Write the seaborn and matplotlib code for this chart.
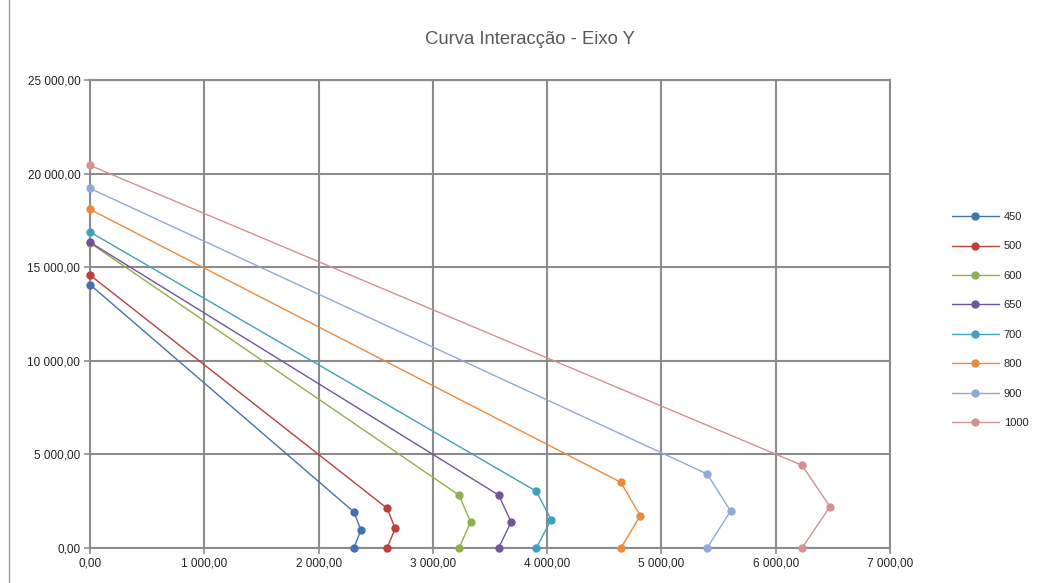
import pandas as pd
import numpy as np
import matplotlib
matplotlib.use("Agg")
import matplotlib.pyplot as plt
import seaborn as sns
from matplotlib.ticker import FuncFormatter, MultipleLocator

# Interaction curve points per section (M, N)
series_names = ["450", "500", "600", "650", "700", "800", "900", "1000"]
x_450 = [0, 2310, 2370, 2310]
y_450 = [14070, 1920, 960, 0]
x_500 = [0, 2600, 2670, 2600]
y_500 = [14580, 2120, 1050, 0]
x_600 = [0, 3230, 3330, 3230]
y_600 = [16300, 2820, 1390, 0]
x_650 = [0, 3575, 3685, 3575]
y_650 = [16330, 2830, 1390, 0]
x_700 = [0, 3905, 4035, 3905]
y_700 = [16880, 3030, 1515, 0]
x_800 = [0, 4645, 4815, 4645]
y_800 = [18090, 3510, 1725, 0]
x_900 = [0, 5400, 5605, 5400]
y_900 = [19210, 3955, 1975, 0]
x_1000 = [0, 6230, 6475, 6230]
y_1000 = [20440, 4420, 2210, 0]

colors = ["#4472b0", "#b9413e", "#8fb04e", "#71559a", "#40a1ba",
          "#ee8a3a", "#90aad6", "#d69190"]

xs = [x_450, x_500, x_600, x_650, x_700, x_800, x_900, x_1000]
ys = [y_450, y_500, y_600, y_650, y_700, y_800, y_900, y_1000]

rows = []
for name, xv, yv in zip(series_names, xs, ys):
    for i, (a, b) in enumerate(zip(xv, yv)):
        rows.append({"serie": name, "ordem": i, "M": a, "N": b})
df = pd.DataFrame(rows)

sns.set_style("white")
plt.rcParams['font.family'] = ['Liberation Sans', 'DejaVu Sans']

fig = plt.figure(figsize=(10.4, 5.83), dpi=100)
ax = fig.add_axes([90 / 1040, 1 - 548 / 583, 800 / 1040, 468 / 583])

sns.lineplot(data=df, x="M", y="N", hue="serie", hue_order=series_names,
             palette=colors, units="serie", estimator=None, sort=False,
             marker="o", markersize=6, markeredgewidth=0, linewidth=1.0,
             ax=ax, legend=False)
for ln in ax.lines:
    ln.set_clip_on(False)

ax.set_xlim(0, 7000)
ax.set_ylim(0, 25000)
ax.xaxis.set_major_locator(MultipleLocator(1000))
ax.yaxis.set_major_locator(MultipleLocator(5000))


def fmt(v, pos):
    s = f"{v:,.2f}"
    return s.replace(",", " ").replace(".", ",")


ax.xaxis.set_major_formatter(FuncFormatter(fmt))
ax.yaxis.set_major_formatter(FuncFormatter(fmt))
ax.grid(True, color="#8c8c8c", linewidth=1.5)
ax.set_axisbelow(True)
for side in ["left", "bottom", "top", "right"]:
    ax.spines[side].set_color("#8c8c8c")
    ax.spines[side].set_linewidth(1.5)
    ax.spines[side].set_zorder(0.5)
ax.tick_params(axis="both", length=4, width=1.2, color="#8c8c8c",
               labelsize=8.5, labelcolor="#222222", direction="out",
               bottom=True, left=True, pad=3)
ax.set_xlabel("")
ax.set_ylabel("")

# legend
handles = [plt.Line2D([0], [0], color=c, marker="o", markersize=6,
                      markeredgewidth=0, linewidth=1.0) for c in colors]
fig.legend(handles, series_names, loc="upper left",
           bbox_to_anchor=(942 / 1040, 1 - 202 / 583), frameon=False,
           fontsize=8, handlelength=4.2, labelspacing=1.75,
           handletextpad=0.45)

fig.text(530 / 1040, 1 - 40 / 583, "Curva Interacção - Eixo Y",
         ha="center", va="center", fontsize=13.3, color="#595959")

fig.patches.append(plt.Rectangle((9 / 1040, -0.01), 1.1, 1.1,
                                 transform=fig.transFigure, fill=False,
                                 edgecolor="#9a9a9a", linewidth=1.0))

fig.savefig("out.png", dpi=100)
